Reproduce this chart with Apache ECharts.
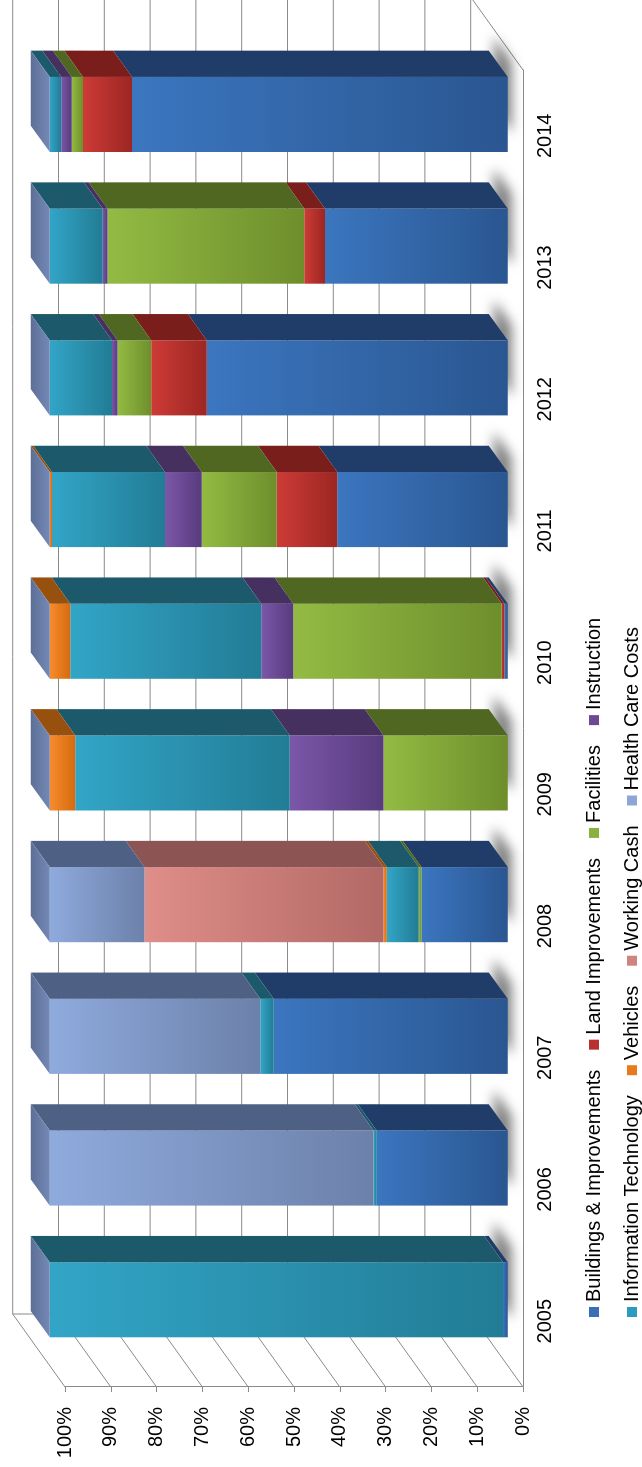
<!DOCTYPE html>
<html>
<head>
<meta charset="utf-8">
<script src="https://cdn.jsdelivr.net/npm/echarts@6/dist/echarts.min.js"></script>
<style>
  html, body { margin: 0; padding: 0; background: #fff; overflow: hidden; width: 642px; height: 1467px; }
  /* The chart is laid out landscape and turned a quarter turn counter-clockwise. */
  #chart { position: absolute; left: 0; top: 0; width: 1467px; height: 642px;
           transform-origin: 0 0; transform: translate(0, 1467px) rotate(-90deg); }
</style>
</head>
<body>
<div id="chart"></div>
<script>
// Share of each fund per year (percent of the yearly total)
const years = ['2005', '2006', '2007', '2008', '2009', '2010', '2011', '2012', '2013', '2014'];
const buildingsImprovements = [1.0, 28.6, 51.1, 18.8, 0, 0.7, 37.2, 65.7, 39.9, 82.0];
const landImprovements      = [0, 0, 0, 0, 0, 0.6, 13.2, 12.1, 4.5, 10.7];
const facilities            = [0, 0, 0, 0.6, 27.1, 45.5, 16.4, 7.4, 43.0, 2.5];
const instruction           = [0, 0, 0, 0, 20.5, 7.0, 8.0, 1.2, 1.0, 2.3];
const informationTechnology = [99.0, 0.7, 2.9, 7.0, 46.8, 41.7, 24.7, 13.6, 11.6, 2.5];
const vehicles              = [0, 0, 0, 0.7, 5.6, 4.5, 0.5, 0, 0, 0];
const workingCash           = [0, 0, 0, 52.2, 0, 0, 0, 0, 0, 0];
const healthCareCosts       = [0, 70.7, 46.0, 20.7, 0, 0, 0, 0, 0, 0];
const percentTicks = [0, 10, 20, 30, 40, 50, 60, 70, 80, 90, 100];

const seriesNames = ['Buildings & Improvements', 'Land Improvements', 'Facilities', 'Instruction',
                     'Information Technology', 'Vehicles', 'Working Cash', 'Health Care Costs'];
const seriesValues = [buildingsImprovements, landImprovements, facilities, instruction,
                      informationTechnology, vehicles, workingCash, healthCareCosts];

// face shading per fund: [front light, front dark, side, legend swatch]
const palette = [
  ['#3B76BF', '#2A5691', '#1F3D68', '#3A6FB2'],
  ['#CD3B36', '#9C2623', '#7A1E1C', '#B8312F'],
  ['#93BB43', '#6E8E2C', '#4F6720', '#8AB13E'],
  ['#7B57A8', '#583B7E', '#45305F', '#6B4A94'],
  ['#32A5C7', '#227C95', '#1C5A6B', '#2E9BBE'],
  ['#F78C2C', '#D66A10', '#98500F', '#E87A1C'],
  ['#DF8E89', '#B26965', '#8C5553', '#D08480'],
  ['#8FAADD', '#6C81AA', '#4E6185', '#8DA6D6']
];
const TOP_FACE = ['#7389B6', '#5D6F96'];
const GRID_COLOR = '#8A8A8A';
const FONT = '"Liberation Sans", Arial, sans-serif';

// oblique projection: offset from the front floor edge to the back wall
const DX = 73, DY = -52.3;
const BAR_FRONT = 0.293;   // depth fraction where the column front sits
const BAR_DEPTH = 0.36;    // column depth as a fraction of floor depth
const BAR_RATIO = 0.57;    // column width relative to category band

function columnFrame(api, ci, v0, v1) {
  const band = api.size([1, 0])[0];
  const w = band * BAR_RATIO;
  const cx = api.coord([ci, 0])[0];
  return {
    xL: cx - w / 2 + BAR_FRONT * DX,
    xR: cx + w / 2 + BAR_FRONT * DX,
    yB: api.coord([ci, v0])[1] + BAR_FRONT * DY,
    yT: api.coord([ci, v1])[1] + BAR_FRONT * DY,
    bx: BAR_DEPTH * DX,
    by: BAR_DEPTH * DY
  };
}

function renderWalls(params, api) {
  const n = years.length;
  const band = api.size([1, 0])[0];
  const xL = api.coord([0, 0])[0] - band / 2;
  const xR = api.coord([n - 1, 0])[0] + band / 2;
  const style = { stroke: GRID_COLOR, lineWidth: 1, fill: null };
  const children = [];
  percentTicks.forEach(function (v) {
    const y = api.coord([0, v])[1];
    children.push({ type: 'polyline', shape: { points: [[xL, y], [xL + DX, y + DY], [xR + DX, y + DY]] }, style: style });
  });
  const yTop = api.coord([0, percentTicks[percentTicks.length - 1]])[1];
  const yBot = api.coord([0, 0])[1];
  children.push({ type: 'line', shape: { x1: xL + DX, y1: yTop + DY, x2: xL + DX, y2: yBot + DY }, style: style });
  children.push({ type: 'line', shape: { x1: xR, y1: yBot, x2: xR + DX, y2: yBot + DY }, style: style });
  return { type: 'group', children: children };
}

// soft floor shadow cast by each column footprint (the footprint itself sits under the column)
function renderShadow(params, api) {
  const f = columnFrame(api, api.value(0), 0, 0);
  return {
    type: 'polygon',
    shape: { points: [[f.xL + 3, f.yB - 1], [f.xR - 1, f.yB - 1], [f.xR + f.bx - 2, f.yB + f.by], [f.xL + f.bx, f.yB + f.by]] },
    style: { fill: '#fff', shadowColor: 'rgba(0,0,0,0.5)', shadowBlur: 12, shadowOffsetX: 16, shadowOffsetY: 5 }
  };
}

function makeRenderer(si) {
  const col = palette[si];
  const isTop = si === seriesNames.length - 1;
  return function (params, api) {
    const ci = api.value(0), v0 = api.value(1), v1 = api.value(2);
    const f = columnFrame(api, ci, v0, v1);
    const children = [];
    if (v1 - v0 > 0) {
      children.push({
        type: 'polygon',
        shape: { points: [[f.xL, f.yT], [f.xR, f.yT], [f.xR, f.yB], [f.xL, f.yB]] },
        style: { fill: { type: 'linear', x: 0, y: 0, x2: 0, y2: 1,
                         colorStops: [{ offset: 0, color: col[0] }, { offset: 1, color: col[1] }] } }
      });
      children.push({
        type: 'polygon',
        shape: { points: [[f.xR, f.yT], [f.xR + f.bx, f.yT + f.by], [f.xR + f.bx, f.yB + f.by], [f.xR, f.yB]] },
        style: { fill: col[2] }
      });
    }
    if (isTop) {
      children.push({
        type: 'polygon',
        shape: { points: [[f.xL, f.yT], [f.xR, f.yT], [f.xR + f.bx, f.yT + f.by], [f.xL + f.bx, f.yT + f.by]] },
        style: { fill: { type: 'linear', x: 0, y: 1, x2: 0, y2: 0,
                         colorStops: [{ offset: 0, color: TOP_FACE[0] }, { offset: 1, color: TOP_FACE[1] }] } }
      });
    }
    return { type: 'group', children: children };
  };
}

// stacked segment ranges
const running = years.map(function () { return 0; });
const stackSeries = seriesNames.map(function (name, si) {
  const data = years.map(function (y, ci) {
    const start = running[ci];
    running[ci] += seriesValues[si][ci];
    return [ci, start, running[ci]];
  });
  return {
    name: name,
    type: 'custom',
    clip: false,
    z: 10,
    itemStyle: { color: palette[si][3] },
    renderItem: makeRenderer(si),
    data: data
  };
});

const legendCommon = {
  left: 145,
  orient: 'horizontal',
  icon: 'rect',
  itemWidth: 10,
  itemHeight: 10,
  itemGap: 20,
  selectedMode: false,
  textStyle: { fontSize: 20, color: '#000', fontFamily: FONT, width: 301 }
};

const chart = echarts.init(document.getElementById('chart'), null, { renderer: 'canvas' });
chart.setOption({
  backgroundColor: '#fff',
  animation: false,
  grid: { left: 80, right: 70, top: 65, bottom: 119 },
  xAxis: {
    type: 'category',
    data: years,
    axisLine: { lineStyle: { color: GRID_COLOR, width: 1 } },
    axisTick: { length: 5, lineStyle: { color: GRID_COLOR } },
    axisLabel: { fontSize: 20, color: '#000', fontFamily: FONT, margin: 12, interval: 0 },
    splitLine: { show: false }
  },
  yAxis: {
    type: 'value',
    min: percentTicks[0],
    max: percentTicks[percentTicks.length - 1],
    interval: percentTicks[1] - percentTicks[0],
    axisLine: { show: true, lineStyle: { color: GRID_COLOR, width: 1 } },
    axisTick: { show: true, length: 5, lineStyle: { color: GRID_COLOR } },
    axisLabel: { fontSize: 20, color: '#000', fontFamily: FONT, margin: 20, formatter: '{value}%' },
    splitLine: { show: false }
  },
  legend: [
    Object.assign({ top: 579, data: seriesNames.slice(0, 4) }, legendCommon),
    Object.assign({ top: 617, data: seriesNames.slice(4) }, legendCommon)
  ],
  series: [
    { type: 'custom', clip: false, z: 1, silent: true, renderItem: renderWalls, data: [[0]] },
    { type: 'custom', clip: false, z: 2, silent: true, renderItem: renderShadow, data: years.map(function (y, i) { return [i]; }) }
  ].concat(stackSeries)
});
</script>
</body>
</html>
